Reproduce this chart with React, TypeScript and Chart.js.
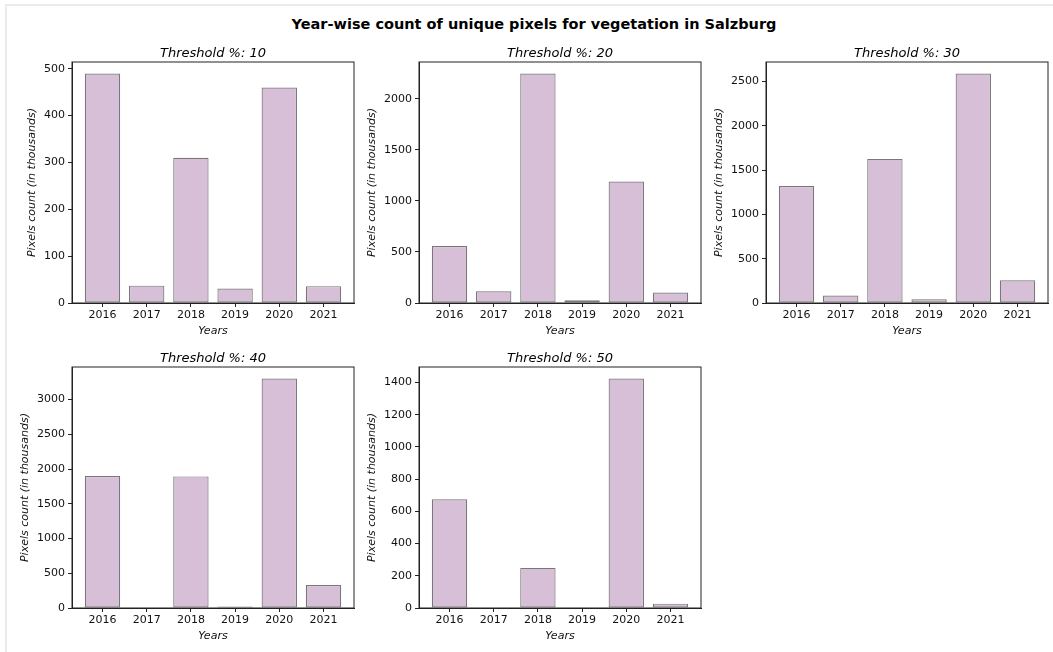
import { useEffect, useRef } from "react";
import { Chart, registerables } from "chart.js";

Chart.register(...registerables);

const years = [2016, 2017, 2018, 2019, 2020, 2021];
const thresholds = [10, 20, 30, 40, 50];
const counts10 = [490, 37, 310, 31, 460, 36];
const counts20 = [557, 115, 2247, 27, 1189, 102];
const counts30 = [1320, 84, 1626, 42, 2590, 257];
const counts40 = [1898, 8, 1894, 23, 3303, 332];
const counts50 = [675, 0, 249, 0, 1425, 27];
const seriesList = [counts10, counts20, counts30, counts40, counts50];
const yTickSteps = [100, 500, 500, 500, 200];

const mainTitle = "Year-wise count of unique pixels for vegetation in Salzburg";
const xAxisLabel = "Years";
const yAxisLabel = "Pixels count (in thousands)";

const FONT = "'DejaVu Sans', sans-serif";
const Y_AXIS_W = 66;
const X_AXIS_H = 36;
const PAD_TOP = 24;
const PAD_RIGHT = 4;
const PLOT_W = 282;
const PLOT_H = 241;

const framePlugin = {
  id: "frameTitle",
  afterDraw(chart: any, _args: any, opts: any) {
    const { ctx, chartArea: a } = chart;
    ctx.save();
    ctx.strokeStyle = "#222";
    ctx.lineWidth = 1;
    ctx.strokeRect(a.left, a.top, a.right - a.left, a.bottom - a.top);
    ctx.font = `italic 13px ${FONT}`;
    ctx.fillStyle = "#000";
    ctx.textAlign = "center";
    ctx.textBaseline = "alphabetic";
    ctx.fillText(opts.text, (a.left + a.right) / 2, a.top - 5.5);
    ctx.restore();
  },
};

function Panel({ index, left, top }: { index: number; left: number; top: number }) {
  const ref = useRef<HTMLCanvasElement | null>(null);
  useEffect(() => {
    if (!ref.current) return;
    const values = seriesList[index];
    const step = yTickSteps[index];
    const ymax = Math.max(...values) * 1.05;
    const tickValues: number[] = [];
    for (let v = 0; v <= ymax; v += step) tickValues.push(v);
    const topTick = tickValues[tickValues.length - 1];
    const digits = String(topTick).length;
    const dist = 47 - (4 - digits) * 7.5;
    const yTitlePad = Y_AXIS_W - dist - 6.6;
    const span = years.length - 1 + 0.8;
    const xmin = years[0] - 0.4 - 0.05 * span;
    const xmax = years[years.length - 1] + 0.4 + 0.05 * span;

    const chart = new Chart(ref.current, {
      type: "bar",
      data: {
        datasets: [
          {
            data: years.map((y, i) => ({ x: y, y: values[i] })),
            backgroundColor: "rgb(216,191,216)",
            borderColor: "rgba(105,105,105,0.9)",
            borderWidth: 1.2,
            borderSkipped: false,
            barPercentage: 0.8,
            categoryPercentage: 1,
          } as any,
        ],
      },
      options: {
        animation: false,
        responsive: true,
        maintainAspectRatio: false,
        layout: { padding: { top: PAD_TOP, right: PAD_RIGHT, left: 0, bottom: 0 } },
        plugins: {
          legend: { display: false },
          tooltip: { enabled: false },
          frameTitle: { text: `Threshold %: ${thresholds[index]}` },
        } as any,
        scales: {
          x: {
            type: "linear",
            min: xmin,
            max: xmax,
            offset: false,
            grid: {
              display: true,
              drawOnChartArea: false,
              drawTicks: true,
              tickLength: 4,
              color: "#222",
              offset: false,
            },
            border: { display: true, color: "#222", width: 1 },
            afterBuildTicks: (scale: any) => {
              scale.ticks = years.map((y) => ({ value: y }));
            },
            afterFit: (scale: any) => {
              scale.height = X_AXIS_H;
            },
            ticks: {
              autoSkip: false,
              maxRotation: 0,
              padding: 2,
              color: "#111",
              font: { family: FONT, size: 11 },
              callback: (v: any) => String(v),
            },
            title: {
              display: true,
              text: xAxisLabel,
              color: "#111",
              font: { family: FONT, size: 11, style: "italic" },
              padding: { top: 0, bottom: 1.4 },
            },
          },
          y: {
            type: "linear",
            min: 0,
            max: ymax,
            grid: {
              display: true,
              drawOnChartArea: false,
              drawTicks: true,
              tickLength: 4,
              color: "#222",
            },
            border: { display: true, color: "#222", width: 1 },
            afterBuildTicks: (scale: any) => {
              scale.ticks = tickValues.map((v) => ({ value: v }));
            },
            afterFit: (scale: any) => {
              scale.width = Y_AXIS_W;
            },
            ticks: {
              autoSkip: false,
              padding: 3,
              color: "#111",
              font: { family: FONT, size: 11 },
              callback: (v: any) => String(v),
            },
            title: {
              display: true,
              text: yAxisLabel,
              color: "#111",
              font: { family: FONT, size: 11, style: "italic" },
              padding: { top: yTitlePad, bottom: 0 },
            },
          },
        },
      } as any,
      plugins: [framePlugin as any],
    });
    return () => chart.destroy();
  }, [index]);

  return (
    <div
      style={{
        position: "absolute",
        left,
        top,
        width: Y_AXIS_W + PLOT_W + PAD_RIGHT,
        height: PAD_TOP + PLOT_H + X_AXIS_H,
      }}
    >
      <canvas ref={ref} />
    </div>
  );
}

export default function App() {
  const plotLefts = [72, 419, 766];
  const plotTops = [62, 367];
  return (
    <div
      style={{
        position: "absolute",
        left: 0,
        top: 0,
        width: 1053,
        height: 652,
        overflow: "hidden",
        background: "#fff",
      }}
    >
      <div
        style={{
          position: "absolute",
          left: 5,
          top: 4,
          width: 1200,
          height: 800,
          borderTop: "2px solid #ebebeb",
          borderLeft: "2px solid #ebebeb",
        }}
      />
      <div
        style={{
          position: "absolute",
          left: 0,
          top: 15,
          width: 1068,
          textAlign: "center",
          fontFamily: FONT,
          fontWeight: "bold",
          fontSize: 14.5,
          lineHeight: "18px",
          color: "#000",
          whiteSpace: "nowrap",
        }}
      >
        {mainTitle}
      </div>
      {thresholds.map((_, i) => (
        <Panel
          key={i}
          index={i}
          left={plotLefts[i % 3] - Y_AXIS_W}
          top={plotTops[Math.floor(i / 3)] - PAD_TOP}
        />
      ))}
    </div>
  );
}
